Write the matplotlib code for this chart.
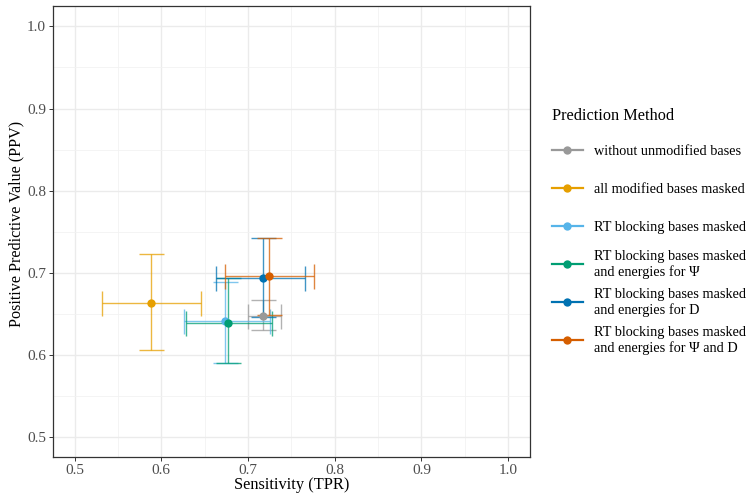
import matplotlib
matplotlib.use("Agg")
import matplotlib.pyplot as plt
from matplotlib.lines import Line2D
from matplotlib.legend_handler import HandlerLine2D
import numpy as np

plt.rcParams['font.family'] = ['Liberation Serif', 'DejaVu Serif']

methods = [
    "without unmodified bases",
    "all modified bases masked",
    "RT blocking bases masked",
    "RT blocking bases masked\nand energies for \u03a8",
    "RT blocking bases masked\nand energies for D",
    "RT blocking bases masked\nand energies for \u03a8 and D",
]
colors = ["#999999", "#E69F00", "#56B4E9", "#009E73", "#0072B2", "#D55E00"]

tpr = [0.7176, 0.5877, 0.6734, 0.6770, 0.7174, 0.7241]
tpr_lo = [0.6995, 0.5311, 0.6261, 0.6280, 0.6634, 0.6738]
tpr_hi = [0.7384, 0.6457, 0.7249, 0.7272, 0.7656, 0.7760]
ppv = [0.6473, 0.6634, 0.6412, 0.6388, 0.6940, 0.6959]
ppv_lo = [0.6303, 0.6056, 0.5905, 0.5905, 0.6464, 0.6488]
ppv_hi = [0.6663, 0.7230, 0.6889, 0.6931, 0.7424, 0.7424]

ticks = [0.5, 0.6, 0.7, 0.8, 0.9, 1.0]
tick_labels = ["0.5", "0.6", "0.7", "0.8", "0.9", "1.0"]


class ShiftedLineHandler(HandlerLine2D):
    def __init__(self, dy=0.0, **kw):
        super().__init__(**kw)
        self.dy = dy

    def create_artists(self, legend, orig_handle, xdescent, ydescent,
                       width, height, fontsize, trans):
        arts = super().create_artists(legend, orig_handle, xdescent, ydescent,
                                      width, height, fontsize, trans)
        for a in arts:
            a.set_ydata(np.asarray(a.get_ydata(), dtype=float) - self.dy)
        return arts


fig = plt.figure(figsize=(7.52, 4.94), dpi=100)
ax = fig.add_axes([0.0705, 0.074, 0.634, 0.914])

for i in range(len(methods)):
    c = colors[i]
    ax.errorbar([tpr[i]], [ppv[i]],
                yerr=[[ppv[i] - ppv_lo[i]], [ppv_hi[i] - ppv[i]]],
                fmt='none', ecolor=c, elinewidth=1.0, capsize=9, capthick=1.0,
                alpha=0.75, zorder=3 + i)
    ax.errorbar([tpr[i]], [ppv[i]],
                xerr=[[tpr[i] - tpr_lo[i]], [tpr_hi[i] - tpr[i]]],
                fmt='none', ecolor=c, elinewidth=1.0, capsize=9, capthick=1.0,
                alpha=0.75, zorder=3 + i)
for i in range(len(methods)):
    ax.plot([tpr[i]], [ppv[i]], 'o', color=colors[i], markersize=6,
            markeredgewidth=0, zorder=10 + i)

ax.set_xlim(0.475, 1.025)
ax.set_ylim(0.475, 1.025)
ax.set_xticks(ticks)
ax.set_xticklabels(tick_labels)
ax.set_yticks(ticks)
ax.set_yticklabels(tick_labels)
ax.set_xticks(np.arange(0.55, 1.0, 0.1), minor=True)
ax.set_yticks(np.arange(0.55, 1.0, 0.1), minor=True)
ax.grid(True, which='major', color='#EBEBEB', linewidth=1.0, zorder=0)
ax.grid(True, which='minor', color='#F2F2F2', linewidth=0.6, zorder=0)
ax.set_axisbelow(True)
ax.tick_params(which='major', length=3, width=0.7, color='#333333',
               labelsize=11, labelcolor='#4D4D4D', pad=2)
ax.tick_params(which='minor', length=0)
for s in ax.spines.values():
    s.set_color('#333333')
    s.set_linewidth(0.9)

ax.set_xlabel("Sensitivity (TPR)", fontsize=11.8, labelpad=0)
ax.set_ylabel("Positive Predictive Value (PPV)", fontsize=11.6, labelpad=2)
ax.yaxis.label.set_y(0.517)

fig.text(552 / 752, 1 - 115.5 / 494, "Prediction Method", fontsize=11.7,
         ha='left', va='center')

handles = [Line2D([0], [0], color=c, marker='o', markersize=6, linewidth=1.6,
                  markeredgewidth=0) for c in colors]
leg = fig.legend(handles, methods, loc='upper left',
                 bbox_to_anchor=(552 / 752, 1 - 135 / 494), frameon=False,
                 fontsize=10.3, borderpad=0,
                 handlelength=2.15, handleheight=3.07, handletextpad=0.82,
                 labelspacing=0.42, borderaxespad=0,
                 handler_map={Line2D: ShiftedLineHandler(dy=3.6)})
for t in leg.get_texts():
    t.set_linespacing(1.18)

fig.savefig("out.png", dpi=100)
